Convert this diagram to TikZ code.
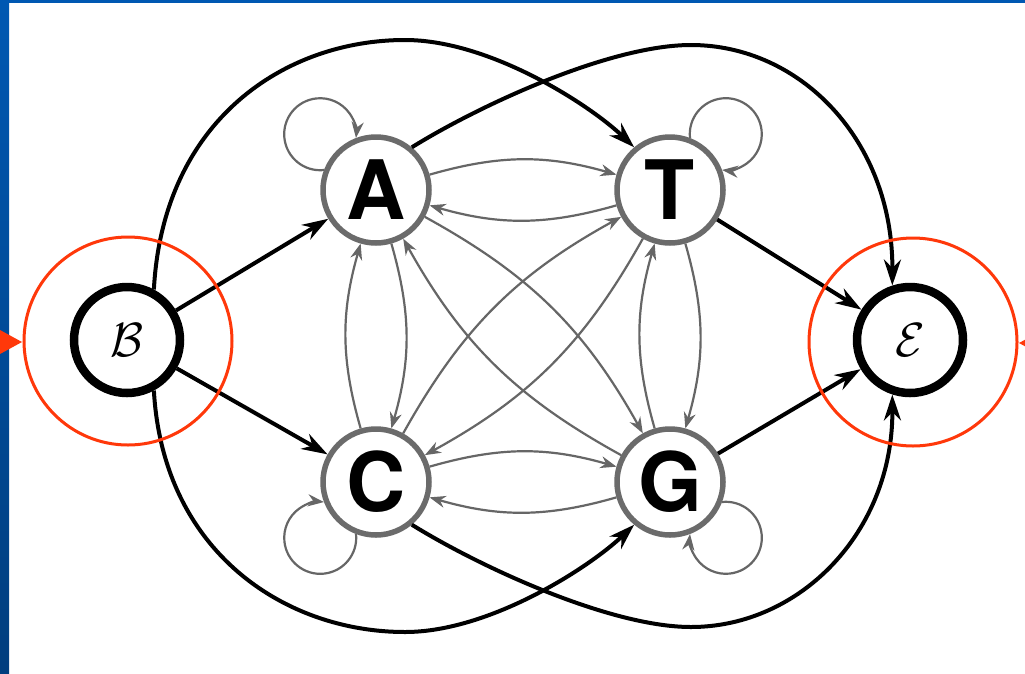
\documentclass[tikz,border=0pt]{standalone}
\usepackage{fontspec}
\setsansfont{TeX Gyre Heros}
\usetikzlibrary{arrows.meta}
\definecolor{barTop}{RGB}{0,88,178}
\definecolor{barBottom}{RGB}{0,62,126}
\definecolor{ringRed}{RGB}{255,56,10}
\begin{document}
\begin{tikzpicture}[x=1pt,y=1pt,
  state/.style={circle, draw=black!58, line width=5.5pt, minimum size=106pt,
    inner sep=0pt, font=\sffamily\bfseries\fontsize{82}{82}\selectfont},
  terminal/.style={circle, draw=black, line width=8.5pt, minimum size=106pt,
    inner sep=0pt},
  inner/.style={draw=black!60, line width=2.2pt,
    -{Stealth[length=16pt,width=12pt]}},
  outer/.style={draw=black, line width=4pt,
    -{Stealth[length=26pt,width=17pt]}},
  ring/.style={draw=ringRed, line width=3pt},
]
\useasboundingbox (0,0) rectangle (1025,-673);
\clip (0,0) rectangle (1025,-673);
\fill[white] (0,0) rectangle (1025,-673);

% slide frame
\shade[top color=barTop, bottom color=barBottom] (0,0) rectangle (9,-673);
\fill[barTop] (0,0) rectangle (1025,-2.5);

% states
\node[terminal] (B) at (127,-340) {\scalebox{4.8}{$\mathcal{B}$}};
\node[terminal] (E) at (910,-340) {\scalebox{4.8}{$\mathcal{E}$}};
\node[state] (A) at (376,-190) {A};
\node[state] (T) at (670,-190) {T};
\node[state] (C) at (376,-482) {C};
\node[state] (G) at (670,-482) {G};

% transitions from the begin state and into the end state
\draw[outer] (B) -- (A);
\draw[outer] (B) -- (C);
\draw[outer] (T) -- (E);
\draw[outer] (G) -- (E);
\draw[outer] (B.62) .. controls (163,-120) and (285,-40) .. (405,-40)
  .. controls (490,-40) and (590,-105) .. (T.130);
\draw[outer] (A.50) .. controls (480,-105) and (610,-45) .. (691,-45)
  .. controls (800,-45) and (893,-140) .. (E.108);
\draw[outer] (B.-62) .. controls (163,-552) and (285,-632) .. (405,-632)
  .. controls (490,-632) and (590,-567) .. (G.-130);
\draw[outer] (C.-50) .. controls (480,-567) and (610,-627) .. (691,-627)
  .. controls (800,-627) and (893,-532) .. (E.-108);

% transitions between the nucleotide states
\foreach \u/\v in {A/T, T/A, C/G, G/C, A/C, C/A, T/G, G/T, A/G, G/A, C/T, T/C}
  \draw[inner] (\u) to[bend left=16] (\v);

% self transitions
\draw[inner] (A.159) arc[start angle=-84, end angle=-366, radius=36];
\draw[inner] (T.69) arc[start angle=-174, end angle=-456, radius=36];
\draw[inner] (C.249) arc[start angle=6, end angle=-276, radius=36];
\draw[inner] (G.339) arc[start angle=96, end angle=-186, radius=36];

% highlight rings and pointers
\draw[ring] (128,-341) circle[radius=104];
\draw[ring] (913,-342) circle[radius=104];
\fill[ringRed] (0,-330) -- (22,-342) -- (0,-354) -- cycle;
\fill[ringRed] (1019,-343) -- (1041,-331) -- (1041,-355) -- cycle;
\end{tikzpicture}
\end{document}
